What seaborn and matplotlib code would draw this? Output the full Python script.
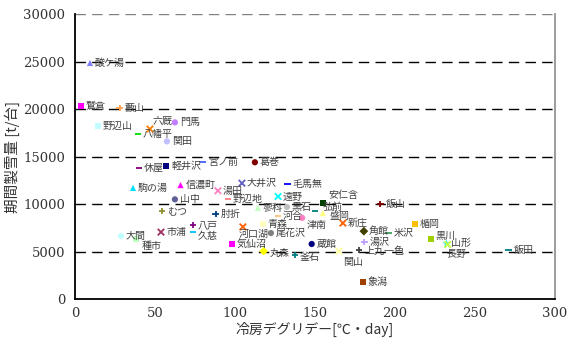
import matplotlib
matplotlib.use('Agg')
import matplotlib.pyplot as plt
import seaborn as sns
import pandas as pd

sns.set_theme(style="white")
plt.rcParams['font.family'] = ['Noto Sans CJK JP', 'DejaVu Sans']

# data
sites = ['酸ケ湯', '鷲倉', '藪山', '野辺山', '六厩', '門馬', '八幡平', '関田', '休屋', '軽井沢',
         '宮ノ前', '葛巻', '駒の湯', '信濃町', '大井沢', '毛馬無', '湯田', '山中', '野辺地', '遠野',
         '蓼科', '黒石', 'むつ', '肘折', '河合', '津南', '弘前', '安仁含', '盛岡', '新庄',
         '飯山', '青森', '河口湖', '尾花沢', '八戸', '市浦', '久慈', '大間', '種市', '気仙沼',
         '丸森', '釜石', '蔵館', '角館', '米沢', '湯沢', '関山', '上九一色', '象潟', '楯岡',
         '黒川', '長野', '山形', '飯田']
degree_days = [9.4, 3.8, 28, 14.4, 46.9, 62.5, 39.4, 57.5, 40, 57,
               80, 112.5, 36.3, 66, 104.4, 133, 89.4, 62.5, 95.6, 127,
               114.4, 132.5, 54.4, 88, 127, 142, 150, 155, 155, 167.5,
               191, 117.5, 105, 122.5, 73.8, 53.8, 73.8, 28.8, 38.1, 98,
               118, 137.5, 148, 180.6, 196, 181, 165, 177.5, 180, 212.5,
               222.5, 233, 232, 271]
snow_amount = [24850, 20300, 20100, 18200, 17900, 18600, 17400, 16600, 13800, 14000,
               14400, 14400, 11700, 12000, 12200, 12100, 11400, 10500, 10500, 10800,
               9600, 9700, 9250, 8950, 8750, 8550, 9250, 10100, 9050, 8000,
               10000, 7900, 7600, 6950, 7800, 7050, 7050, 6650, 6300, 5800,
               5050, 4650, 5800, 7150, 6950, 6000, 5050, 5150, 1800, 7900,
               6300, 5750, 5900, 5150]

# marker styles per site
markers = ['^', 's', '+', 's', 'x', 'o', '_', 'o', '_', 's',
           '_', 'o', '^', '^', 'x', '_', 'x', 'o', '_', 'x',
           '^', 'o', '+', '+', '_', 'o', '_', 's', '^', 'x',
           '+', 's', 'x', 'o', '+', 'x', '_', 'o', 's', 's',
           'D', '+', 'o', 'D', '_', '+', 'x', '+', 's', 's',
           's', 'x', '*', '_']
colors = ['#8080ff', '#ff00ff', '#ffa050', '#c0ffff', '#ff8000', '#c080ff', '#00e000', '#c0c0ff', '#800080', '#000080',
          '#4060ff', '#800000', '#00e0ff', '#ff00ff', '#6060c0', '#0000ff', '#ff80c0', '#606098', '#ff8080', '#00ffff',
          '#c0ffc0', '#c0c0c0', '#909030', '#004080', '#ffc080', '#ff80c0', '#008080', '#004000', '#ffff80', '#ff6000',
          '#800000', '#ffffc0', '#ff6000', '#808080', '#800080', '#a03060', '#00c0ff', '#c0ffff', '#c0ffc0', '#ff00ff',
          '#ffff00', '#008080', '#000080', '#404000', '#40a060', '#c0a0ff', '#ffffa0', '#404040', '#a04000', '#ffc000',
          '#a0d000', '#c0ff40', '#40e8ff', '#008080']

# label offsets in pixels where the label is not just right of the marker
label_offsets = {'六厩': (3, 8), '津南': (5, -7), '弘前': (8, 4), '安仁含': (5, 8), '盛岡': (7, -3),
                 '河口湖': (-4, -7), '久慈': (5, -4), '種市': (6, -7), '関山': (4, -11),
                 '長野': (-1, -10), '黒川': (5, 3), '釜石': (5, -2), '丸森': (6, -2),
                 '上九一色': (6, -1)}

df = pd.DataFrame({'site': sites, 'cdd': degree_days, 'snow': snow_amount, 'marker': markers})
palette = dict(zip(sites, colors))

fig, ax = plt.subplots(figsize=(5.72, 3.43), dpi=100)
fig.subplots_adjust(left=0.131, right=0.970, top=0.959, bottom=0.128)

for m, grp in df.groupby('marker'):
    if m in ['+', 'x', '_']:
        sns.scatterplot(data=grp, x='cdd', y='snow', hue='site', palette=palette, marker=m,
                        s=22, linewidth=1.3, legend=False, ax=ax, zorder=3)
    else:
        size = 40 if m == '*' else 20
        sns.scatterplot(data=grp, x='cdd', y='snow', hue='site', palette=palette, marker=m,
                        s=size, linewidth=0, legend=False, ax=ax, zorder=3)

for name, x, y in zip(sites, degree_days, snow_amount):
    dx, dy = label_offsets.get(name, (5, 0))
    ax.annotate(name, (x, y), xytext=(dx, dy), textcoords='offset pixels',
                ha='left', va='center', fontsize=7.2, color='#404040', zorder=4)

# dashed horizontal grid
for yv in range(5000, 30001, 5000):
    ax.axhline(yv, color='black' if yv < 30000 else '#808080', lw=1.0,
               dashes=(7.5, 4.5), zorder=1)

ax.set_xlim(0, 300)
ax.set_ylim(0, 30000)
ax.set_xticks(range(0, 301, 50))
ax.set_yticks(range(0, 30001, 5000))
ax.tick_params(axis='x', direction='in', length=4, width=1, color='black', labelsize=9.5, pad=6)
ax.tick_params(axis='y', length=0, labelsize=9.5, pad=7)
for lab in ax.get_xticklabels() + ax.get_yticklabels():
    lab.set_family('DejaVu Serif')
    lab.set_color('#333333')

ax.spines['left'].set_color('black')
ax.spines['bottom'].set_color('black')
ax.spines['left'].set_linewidth(1.3)
ax.spines['bottom'].set_linewidth(1.3)
ax.spines['right'].set_color('#909090')
ax.spines['top'].set_visible(False)

ax.set_xlabel('冷房デグリデー[℃・day]', fontsize=10, color='#333333', labelpad=1)
ax.set_ylabel('期間製雪量 [t/台]', fontsize=10.5, color='#333333', labelpad=2)

fig.savefig('out.png', dpi=100, facecolor='white')
